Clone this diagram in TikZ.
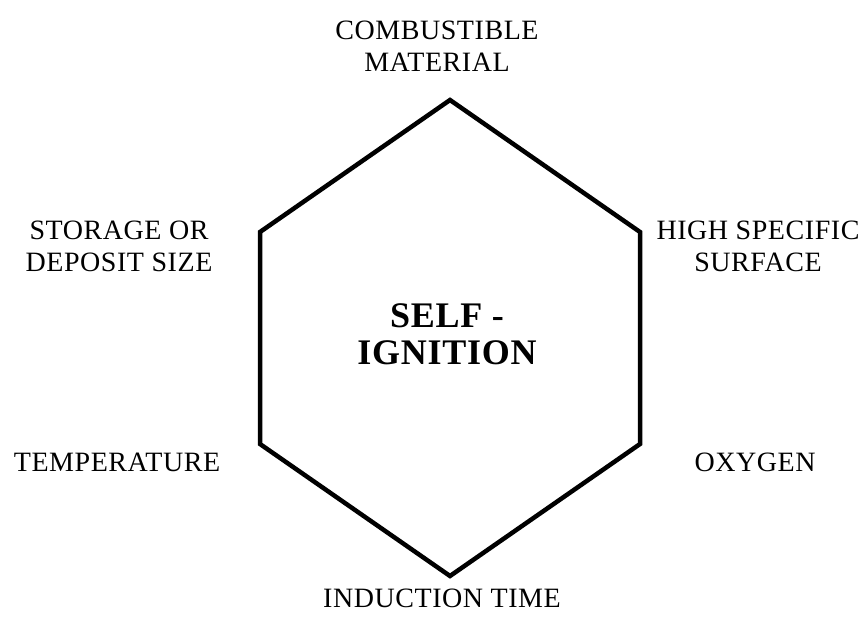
\documentclass[tikz,border=0pt]{standalone}
\usepackage{fontspec}
\setmainfont{Liberation Serif}[LetterSpace=2]
\usepackage{tikz}

\tikzset{
  lbl/.style={align=center,inner sep=0pt,font=\fontsize{28}{32}\selectfont},
  core/.style={align=center,inner sep=0pt,font=\fontsize{36}{37}\selectfont\bfseries}
}

\begin{document}
\begin{tikzpicture}[x=1pt,y=-1pt]
          \useasboundingbox (0,0) rectangle (864,629);
          % corners of the hexagon
          \coordinate (top) at (450,100);
          \coordinate (ur) at (640,232);
          \coordinate (lr) at (640,444);
          \coordinate (bot) at (450,576);
          \coordinate (ll) at (260,444);
          \coordinate (ul) at (260,232);
          \draw[line width=4.5pt,line join=miter] (top)--(ur)--(lr)--(bot)--(ll)--(ul)--cycle;
          \node[core] (self) at (447,334) {SELF -\\IGNITION};
          \node[lbl] (material) at (437,46) {COMBUSTIBLE\\MATERIAL};
          \node[lbl] (surface) at (758,246) {HIGH SPECIFIC\\SURFACE};
          \node[lbl] (oxygen) at (755,462) {OXYGEN};
          \node[lbl] (induction) at (442,598) {INDUCTION TIME};
          \node[lbl] (temperature) at (117,462) {TEMPERATURE};
          \node[lbl] (storage) at (119,246) {STORAGE OR\\DEPOSIT SIZE};
        \end{tikzpicture}
\end{document}
